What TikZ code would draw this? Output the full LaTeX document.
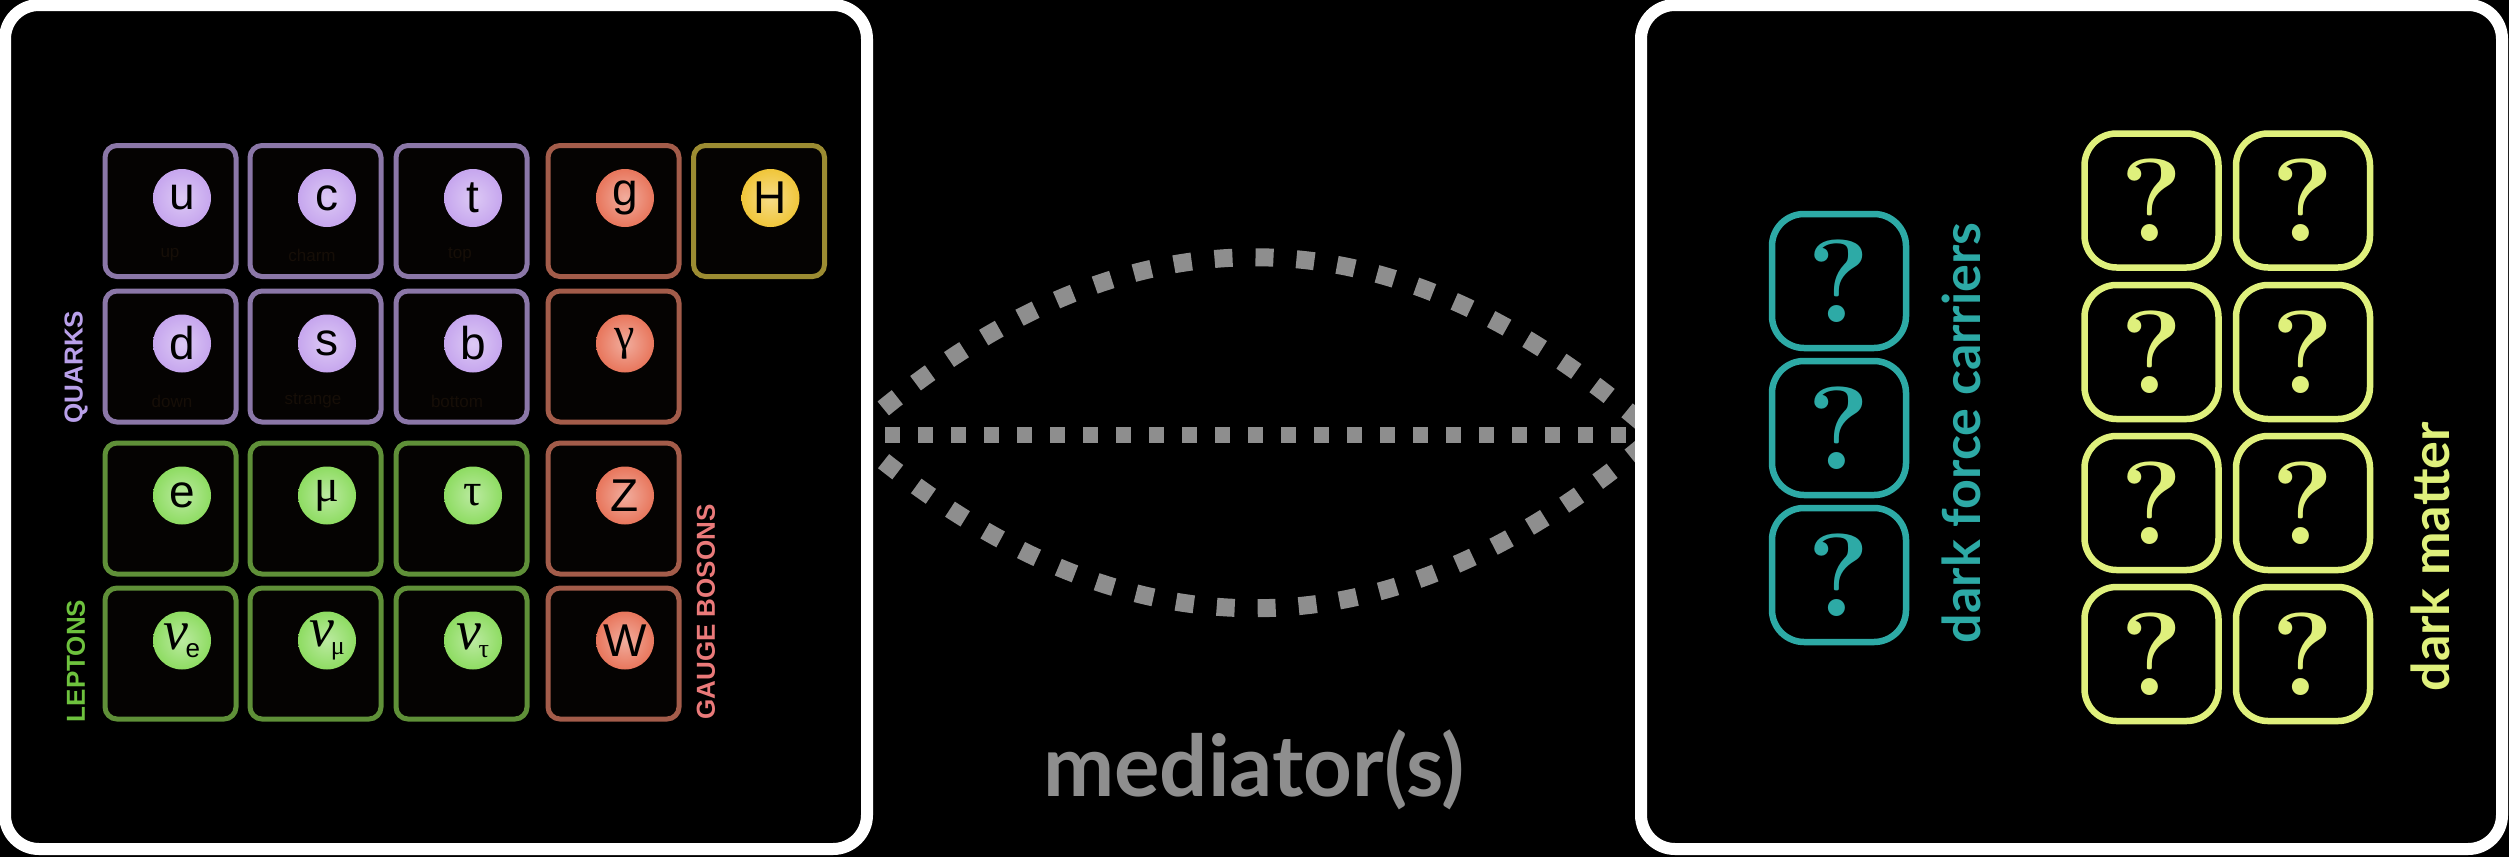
\documentclass[tikz,border=0pt]{standalone}
\usepackage{fontspec}
\newfontfamily\latof{Lato}
\newfontfamily\arialf{Liberation Sans}
\newfontfamily\timesf{Liberation Serif}
\usetikzlibrary{backgrounds}
\definecolor{qline}{HTML}{8B77A8}
\definecolor{qball}{HTML}{C6A6EE}
\definecolor{lline}{HTML}{5F9038}
\definecolor{lball}{HTML}{8EDC62}
\definecolor{gline}{HTML}{A35C4A}
\definecolor{gball}{HTML}{E8765C}
\definecolor{hline}{HTML}{9C8C32}
\definecolor{hball}{HTML}{F0C63A}
\definecolor{qtext}{HTML}{B9A0EA}
\definecolor{ltext}{HTML}{6EC23E}
\definecolor{gtext}{HTML}{EA7A7A}
\definecolor{dteal}{HTML}{2DAAA6}
\definecolor{dyel}{HTML}{DFF07C}
\definecolor{medgray}{HTML}{8E8E8E}
\definecolor{faint}{HTML}{160E07}
\definecolor{boxfill}{HTML}{050302}
\newcommand\mkparticle[6]{%
  \node[pbox=#4] (box#1) at (#2,#3) {};
  \node[pball=#5] (ball#1) at ([xshift=11.5pt,yshift=13pt]box#1.center) {#6};
}
\newcommand\nusym[1]{{\timesf\itshape\fontsize{56}{56}\selectfont ν}\kern-3pt\raisebox{-8pt}{\fontsize{26}{26}\selectfont #1}}
\begin{document}
\begin{tikzpicture}[x=1pt,y=-1pt,
  pbox/.style={draw=#1, line width=5pt, rounded corners=12pt, minimum width=131pt, minimum height=131pt, inner sep=0pt, fill=boxfill},
  pball/.style={circle, minimum size=58pt, inner sep=0pt, inner color=#1!60!white, outer color=#1, text=black, font=\arialf\fontsize{46}{46}\selectfont},
  catlabel/.style={rotate=90, font=\arialf\bfseries\fontsize{26}{26}\selectfont, text=#1},
  faintlabel/.style={text=faint, font=\arialf\fontsize{17}{17}\selectfont},
  qmbox/.style={draw=#1, line width=6.5pt, rounded corners=32pt, minimum width=134pt, minimum height=134pt, inner sep=0pt, text=#1, font=\bfseries\fontsize{118}{118}\selectfont},
  panel/.style={draw=white, line width=12pt, rounded corners=34pt, fill=black, outer sep=0pt},
  arcdots/.style={draw=medgray, line width=18pt, dash pattern=on 18pt off 23pt},
  linedots/.style={draw=medgray, line width=16pt, dash pattern=on 15pt off 18pt},
  sidelabel/.style={rotate=90, font=\latof\bfseries\fontsize{52}{52}\selectfont, text=#1},
]
\useasboundingbox (0,0) rectangle (2509,857);
\begin{scope}[on background layer]
  \fill[black] (0,0) rectangle (2509,857);
  \coordinate (mL) at (852,435);
  \coordinate (mR) at (1656,435);
  \draw[linedots] (mL) -- (mR);
  \draw[arcdots] (mL) .. controls (1120,198) and (1388,198) .. (mR);
  \draw[arcdots] (mL) .. controls (1120,666) and (1388,666) .. (mR);
\end{scope}

% panels
\node[panel, minimum width=862pt, minimum height=844pt] (lp) at (436,427) {};
\node[panel, minimum width=861pt, minimum height=844pt] (rp) at (2071.5,427) {};

% standard model grid
\mkparticle{u}{170.5}{211}{qline}{qball}{u}
\mkparticle{c}{315.5}{211}{qline}{qball}{c}
\mkparticle{t}{461.5}{211}{qline}{qball}{t}
\mkparticle{g}{613.5}{211}{gline}{gball}{g}
\mkparticle{H}{759}{211}{hline}{hball}{H}
\mkparticle{d}{170.5}{356.5}{qline}{qball}{d}
\mkparticle{s}{315.5}{356.5}{qline}{qball}{s}
\mkparticle{b}{461.5}{356.5}{qline}{qball}{b}
\mkparticle{ga}{613.5}{356.5}{gline}{gball}{{\timesf γ}}
\mkparticle{e}{170.5}{508.5}{lline}{lball}{e}
\mkparticle{mu}{315.5}{508.5}{lline}{lball}{{\timesf μ}}
\mkparticle{tau}{461.5}{508.5}{lline}{lball}{{\timesf τ}}
\mkparticle{Z}{613.5}{508.5}{gline}{gball}{Z}
\mkparticle{ve}{170.5}{653.5}{lline}{lball}{\nusym{e}}
\mkparticle{vm}{315.5}{653.5}{lline}{lball}{\nusym{\timesf μ}}
\mkparticle{vt}{461.5}{653.5}{lline}{lball}{\nusym{\timesf τ}}
\mkparticle{W}{613.5}{653.5}{gline}{gball}{W}

% faint names
\node[faintlabel] (nup) at (170,255) {up};
\node[faintlabel] (ncharm) at (312,255) {charm};
\node[faintlabel] (ntop) at (460,255) {top};
\node[faintlabel] (ndown) at (172,401) {down};
\node[faintlabel] (nstrange) at (313,401) {strange};
\node[faintlabel] (nbottom) at (457,401) {bottom};

% category labels
\node[catlabel=qtext] (lquarks) at (76,367) {QUARKS};
\node[catlabel=ltext] (lleptons) at (76,661) {LEPTONS};
\node[catlabel=gtext] (lgauge) at (706,612) {GAUGE BOSONS};

% dark sector
\node[qmbox=dteal] (dfa) at (1839,281) {?};
\node[qmbox=dteal] (dfb) at (1839,428) {?};
\node[qmbox=dteal] (dfc) at (1839,575) {?};
\node[sidelabel=dteal] (ldfc) at (1961,433) {dark force carriers};

\node[qmbox=dyel] (dm11) at (2151.5,200.5) {?};
\node[qmbox=dyel] (dm12) at (2303,200.5) {?};
\node[qmbox=dyel] (dm21) at (2151.5,352) {?};
\node[qmbox=dyel] (dm22) at (2303,352) {?};
\node[qmbox=dyel] (dm31) at (2151.5,503) {?};
\node[qmbox=dyel] (dm32) at (2303,503) {?};
\node[qmbox=dyel] (dm41) at (2151.5,654) {?};
\node[qmbox=dyel] (dm42) at (2303,654) {?};
\node[sidelabel=dyel] (ldm) at (2430,557) {dark matter};

% mediator label
\node[anchor=base, text=medgray, font=\latof\bfseries\fontsize{85}{85}\selectfont] (lmed) at (1254,796) {mediator(s)};
\end{tikzpicture}
\end{document}
